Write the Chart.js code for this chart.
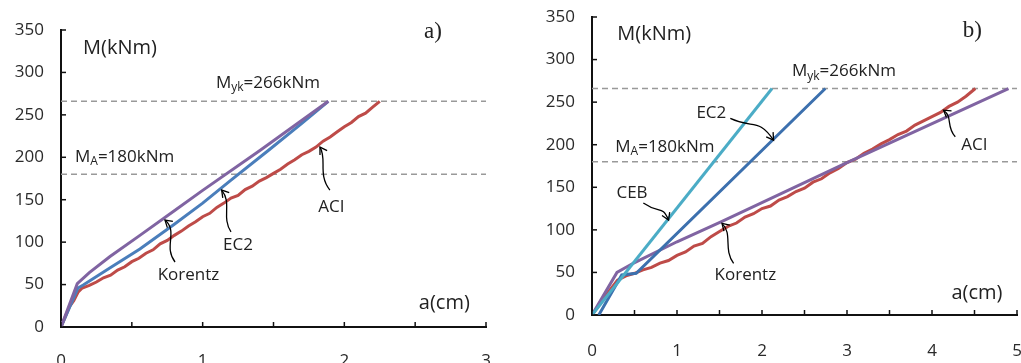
<!DOCTYPE html>
<html lang="en">
<head>
<meta charset="UTF-8">
<title>M-a curves</title>
<script src="https://cdn.jsdelivr.net/npm/chart.js"></script>
<style>
  body { margin: 0; background: #fff; }
  .wrap { position: absolute; top: 0; height: 363px; }
  #wrapA { left: 0; width: 510px; }
  #wrapB { left: 510px; width: 511px; }
</style>
</head>
<body>
<div class="wrap" id="wrapA"><canvas id="chartA"></canvas></div>
<div class="wrap" id="wrapB"><canvas id="chartB"></canvas></div>

<script>
// === levels ===
const levelYk = 266;
const levelA = 180;

// === chart a) ===
const aKorentzX = [0, 0.115, 0.2, 0.346, 0.557, 0.8, 1.0, 1.404, 1.887];
const aKorentzY = [0, 51, 64, 83, 108, 137, 161, 208, 266];
const aEc2X = [0, 0.12, 0.157, 0.35, 0.557, 0.8, 1.0, 1.2, 1.463, 1.7, 1.887];
const aEc2Y = [0, 46, 49.5, 70, 92, 121, 146, 173, 208, 240, 266];
const aAciX = [0, 0.03, 0.06, 0.09, 0.12, 0.15, 0.2, 0.25, 0.3, 0.35, 0.4, 0.45, 0.5, 0.55, 0.6, 0.65, 0.7, 0.75, 0.8, 0.85, 0.9, 0.95, 1.0, 1.05, 1.1, 1.15, 1.2, 1.25, 1.3, 1.35, 1.4, 1.45, 1.5, 1.55, 1.6, 1.65, 1.7, 1.75, 1.8, 1.85, 1.9, 1.95, 2.0, 2.05, 2.1, 2.15, 2.2, 2.25];
const aAciY = [0, 12, 24, 31, 41, 46, 49, 53, 58, 61, 67, 71, 77, 81, 87, 91, 98, 102, 108, 113, 119, 124, 130, 134, 141, 146, 152, 155, 162, 166, 172, 176, 181, 186, 192, 197, 203, 207, 212, 219, 224, 230, 236, 241, 248, 252, 259, 266];

// === chart b) ===
const bCebX = [0, 2.118];
const bCebY = [0, 266];
const bEc2X = [0.08, 0.35, 0.52, 2.745];
const bEc2Y = [0, 47, 49, 266];
const bKorentzX = [0, 0.294, 0.49, 1.0, 1.53, 3.0, 4.9];
const bKorentzY = [0, 50, 61, 86, 110, 179, 266];
const bAciX = [0, 0.1, 0.2, 0.3, 0.4, 0.5, 0.6, 0.7, 0.8, 0.9, 1.0, 1.1, 1.2, 1.3, 1.4, 1.5, 1.6, 1.7, 1.8, 1.9, 2.0, 2.1, 2.2, 2.3, 2.4, 2.5, 2.6, 2.7, 2.8, 2.9, 3.0, 3.1, 3.2, 3.3, 3.4, 3.5, 3.6, 3.7, 3.8, 3.9, 4.0, 4.1, 4.2, 4.3, 4.4, 4.51];
const bAciY = [0, 14, 28, 41, 46, 49, 53, 56, 61, 64, 70, 74, 81, 84, 92, 98, 104, 108, 115, 119, 125, 128, 135, 139, 145, 149, 156, 160, 167, 172, 179, 183, 190, 195, 201, 206, 212, 216, 223, 228, 233, 238, 245, 250, 257, 266];

const FONT = "'Open Sans', 'DejaVu Sans', sans-serif";

function pts(xs, ys) {
    return xs.map((x, i) => ({ x: x, y: ys[i] }));
}

function curve(data, color, order) {
    return { data: data, borderColor: color, borderWidth: 3, pointRadius: 0, tension: 0, order: order };
}

function dashed(xMax, level) {
    return {
        data: pts([0, xMax], [level, level]),
        borderColor: '#999', borderWidth: 1.6, borderDash: [6, 4],
        pointRadius: 0, order: 10
    };
}

// inner tick marks, arrows and text labels
const decor = {
    id: 'decor',
    afterDatasetsDraw(chart, args, opts) {
        const ctx = chart.ctx;
        const xs = chart.scales.x, ys = chart.scales.y;
        const px = v => xs.getPixelForValue(v);
        const py = v => ys.getPixelForValue(v);
        ctx.save();

        ctx.strokeStyle = '#111';
        ctx.lineWidth = 1.5;
        ys.ticks.forEach(t => {
            const y = py(t.value);
            ctx.beginPath(); ctx.moveTo(xs.left, y); ctx.lineTo(xs.left + 5, y); ctx.stroke();
        });
        xs.ticks.forEach(t => {
            const x = px(t.value);
            ctx.beginPath(); ctx.moveTo(x, ys.bottom); ctx.lineTo(x, ys.bottom - 5); ctx.stroke();
        });

        // arrows: tail, c1, c2, tip
        ctx.strokeStyle = '#000';
        ctx.lineWidth = 1.3;
        opts.arrows.forEach(a => {
            const p = a.map(q => [px(q[0]), py(q[1])]);
            ctx.beginPath();
            ctx.moveTo(p[0][0], p[0][1]);
            ctx.bezierCurveTo(p[1][0], p[1][1], p[2][0], p[2][1], p[3][0], p[3][1]);
            ctx.stroke();
            const ang = Math.atan2(p[3][1] - p[2][1], p[3][0] - p[2][0]);
            const len = 8;
            ctx.beginPath();
            ctx.moveTo(p[3][0] - len * Math.cos(ang - 0.55), p[3][1] - len * Math.sin(ang - 0.55));
            ctx.lineTo(p[3][0], p[3][1]);
            ctx.lineTo(p[3][0] - len * Math.cos(ang + 0.55), p[3][1] - len * Math.sin(ang + 0.55));
            ctx.stroke();
        });

        ctx.fillStyle = '#222';
        ctx.textBaseline = 'middle';
        opts.labels.forEach(l => {
            const size = l.size || 17;
            ctx.font = size + 'px ' + (l.family || FONT);
            let x = px(l.x);
            const y = py(l.y);
            if (l.sub) {
                ctx.textAlign = 'left';
                ctx.fillText(l.text, x, y);
                x += ctx.measureText(l.text).width;
                ctx.font = Math.round(size * 0.7) + 'px ' + FONT;
                ctx.fillText(l.sub, x, y + 5);
                x += ctx.measureText(l.sub).width;
                ctx.font = size + 'px ' + FONT;
                ctx.fillText(l.rest, x, y);
            } else {
                ctx.textAlign = 'center';
                ctx.fillText(l.text, x, y);
            }
        });
        ctx.restore();
    }
};

function makeChart(id, datasets, xMax, yWidth, xHeight, pad, xPad, arrows, labels) {
    return new Chart(document.getElementById(id), {
        type: 'line',
        data: { datasets: datasets },
        plugins: [decor],
        options: {
            responsive: true,
            maintainAspectRatio: false,
            animation: false,
            layout: { padding: pad },
            plugins: {
                legend: { display: false },
                tooltip: { enabled: false },
                decor: { arrows: arrows, labels: labels }
            },
            scales: {
                x: {
                    type: 'linear', min: 0, max: xMax,
                    grid: { display: true, drawOnChartArea: false, drawTicks: false },
                    border: { color: '#111', width: 2 },
                    ticks: {
                        stepSize: 0.5, padding: xPad, color: '#2a2a2a', maxRotation: 0,
                        font: { family: FONT, size: 17 },
                        callback: v => (Number.isInteger(v) ? v : '')
                    },
                    afterFit: s => {
                        s.height = xHeight;
                        s.paddingLeft = 0; s.paddingRight = 0;
                    }
                },
                y: {
                    min: 0, max: 350,
                    grid: { display: true, drawOnChartArea: false, drawTicks: false },
                    border: { color: '#111', width: 2 },
                    ticks: {
                        stepSize: 25, padding: 17, color: '#2a2a2a',
                        font: { family: FONT, size: 17 },
                        callback: v => (v % 50 === 0 ? v : '')
                    },
                    afterFit: s => {
                        s.width = yWidth;
                        s.paddingTop = 0; s.paddingBottom = 0;
                    }
                }
            }
        }
    });
}

makeChart('chartA', [
    curve(pts(aKorentzX, aKorentzY), '#8064A2', 1),
    curve(pts(aEc2X, aEc2Y), '#4A7EBB', 2),
    curve(pts(aAciX, aAciY), '#BE4B48', 3),
    dashed(3, levelYk),
    dashed(3, levelA)
], 3, 61, 36, { top: 30, right: 24, left: 0, bottom: 0 }, 24, [
    [[0.805, 76.6], [0.72, 95], [0.83, 112], [0.734, 126.1]],
    [[1.2, 112], [1.13, 130], [1.21, 146], [1.134, 161.4]],
    [[1.898, 161.4], [1.81, 180], [1.88, 198], [1.828, 212]]
], [
    { text: 'M(kNm)', x: 0.416, y: 328.8, size: 20 },
    { text: 'a)', x: 2.625, y: 347.6, size: 23, family: "'Liberation Serif', serif" },
    { text: 'M', sub: 'yk', rest: '=266kNm', x: 1.094, y: 287.5 },
    { text: 'M', sub: 'A', rest: '=180kNm', x: 0.099, y: 200.3 },
    { text: 'Korentz', x: 0.9, y: 61.3 },
    { text: 'EC2', x: 1.249, y: 96.6 },
    { text: 'ACI', x: 1.909, y: 141.4 },
    { text: 'a(cm)', x: 2.706, y: 28.3, size: 20 }
]);

makeChart('chartB', [
    curve(pts(bCebX, bCebY), '#4BACC6', 1),
    curve(pts(bEc2X, bEc2Y), '#3C70AE', 2),
    curve(pts(bKorentzX, bKorentzY), '#8064A2', 3),
    curve(pts(bAciX, bAciY), '#BE4B48', 4),
    dashed(5, levelYk),
    dashed(5, levelA)
], 5, 82, 48, { top: 17, right: 4, left: 0, bottom: 0 }, 26, [
    [[1.627, 230.9], [1.9, 218], [1.95, 232], [2.136, 205.4]],
    [[0.604, 131.5], [0.8, 118], [0.82, 130], [0.901, 111.5]],
    [[1.666, 60.7], [1.54, 78], [1.66, 95], [1.529, 107.6]],
    [[4.274, 209.3], [4.16, 222], [4.25, 232], [4.136, 240.6]]
], [
    { text: 'M(kNm)', x: 0.733, y: 329.8, size: 20 },
    { text: 'b)', x: 4.474, y: 333.3, size: 23, family: "'Liberation Serif', serif" },
    { text: 'M', sub: 'yk', rest: '=266kNm', x: 2.353, y: 286.4 },
    { text: 'M', sub: 'A', rest: '=180kNm', x: 0.274, y: 197.5 },
    { text: 'EC2', x: 1.404, y: 237.4 },
    { text: 'CEB', x: 0.471, y: 142.8 },
    { text: 'ACI', x: 4.498, y: 199.5 },
    { text: 'Korentz', x: 1.804, y: 46.9 },
    { text: 'a(cm)', x: 4.529, y: 25.5, size: 20 }
]);
</script>
</body>
</html>
